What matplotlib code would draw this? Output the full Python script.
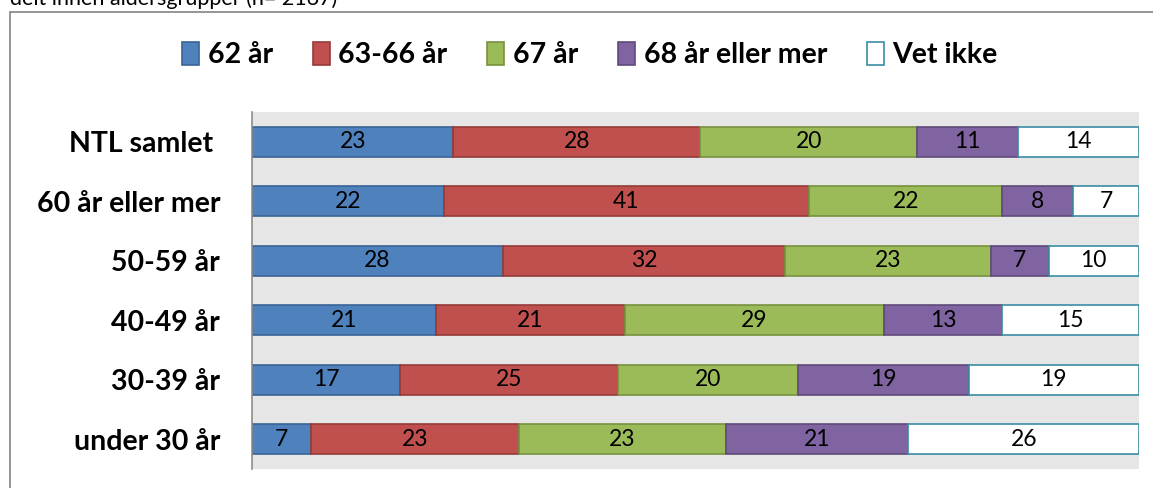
import numpy as np
import matplotlib.pyplot as plt
from matplotlib.patches import Rectangle, Patch

# ---------------------------------------------------------
# DATA
# ---------------------------------------------------------
CATEGORIES = ["NTL samlet ", "60 år eller mer", "50-59 år", "40-49 år", "30-39 år", "under 30 år"]
SERIES = ["62 år", "63-66 år", "67 år", "68 år eller mer", "Vet ikke"]

# bar widths (percent)
V_62 = [22.7, 21.6, 28.3, 20.8, 16.7, 6.7]
V_63_66 = [27.8, 41.2, 31.8, 21.2, 24.6, 23.4]
V_67 = [24.5, 21.8, 23.2, 29.2, 20.2, 23.3]
V_68 = [11.4, 8.0, 6.5, 13.4, 19.3, 20.6]
V_VET = [13.6, 7.4, 10.2, 15.4, 19.2, 26.0]

# numbers printed in the bars
L_62 = [23, 22, 28, 21, 17, 7]
L_63_66 = [28, 41, 32, 21, 25, 23]
L_67 = [20, 22, 23, 29, 20, 23]
L_68 = [11, 8, 7, 13, 19, 21]
L_VET = [14, 7, 10, 15, 19, 26]

FILL = ["#4F81BD", "#C0504D", "#9BBB59", "#8064A2", "#FFFFFF"]
EDGE = ["#3A6496", "#943B39", "#77913F", "#5F4A7A", "#3A8CA3"]

# ---------------------------------------------------------
# PLOT
# ---------------------------------------------------------
plt.rcParams["font.family"] = ["Lato", "DejaVu Sans"]

fig = plt.figure(figsize=(11.53, 4.88), dpi=100)
ax = fig.add_axes([252 / 1153, 1 - 469 / 488, 887 / 1153, 357 / 488])
ax.set_facecolor("#E6E6E6")

values = [V_62, V_63_66, V_67, V_68, V_VET]
labels = [L_62, L_63_66, L_67, L_68, L_VET]
y = np.arange(len(CATEGORIES))
left = np.zeros(len(CATEGORIES))

for i, name in enumerate(SERIES):
    bars = ax.barh(y, values[i], left=left, height=0.5, color=FILL[i],
                   edgecolor=EDGE[i], linewidth=1.2, label=name)
    ax.bar_label(bars, labels=[str(v) for v in labels[i]], label_type="center",
                 fontsize=16.5, color="black")
    left += np.array(values[i])

ax.set_xlim(0, 100)
ax.set_ylim(len(CATEGORIES) - 0.5, -0.5)
ax.set_yticks(y)
ax.set_yticklabels(CATEGORIES, fontsize=20.5, fontweight="bold")
ax.tick_params(axis="y", length=0, pad=23)
ax.set_xticks([])
for side in ["top", "right", "bottom"]:
    ax.spines[side].set_visible(False)
ax.spines["left"].set_color("#8C8C8C")
ax.spines["left"].set_linewidth(1.2)

handles = [Patch(facecolor=FILL[i], edgecolor=EDGE[i], linewidth=1.2) for i in range(len(SERIES))]
fig.legend(handles, SERIES, loc="center", bbox_to_anchor=(590 / 1153, 1 - 55 / 488),
           ncol=5, frameon=False, prop={"size": 20.5, "weight": "bold"},
           handlelength=0.6, handleheight=0.9, handletextpad=0.3, columnspacing=1.4)

# chart frame (cut off at right and bottom)
fig.patches.append(Rectangle((10 / 1153, -0.1), 1.2, 1.1 - 12 / 488, transform=fig.transFigure,
                             fill=False, edgecolor="#8C8C8C", linewidth=1.3))

fig.text(10 / 1153, 1 - 5 / 488, "delt innen aldersgrupper (n= 2167)", fontsize=15.5,
         va="baseline", ha="left")

fig.savefig("out.png", dpi=100)
